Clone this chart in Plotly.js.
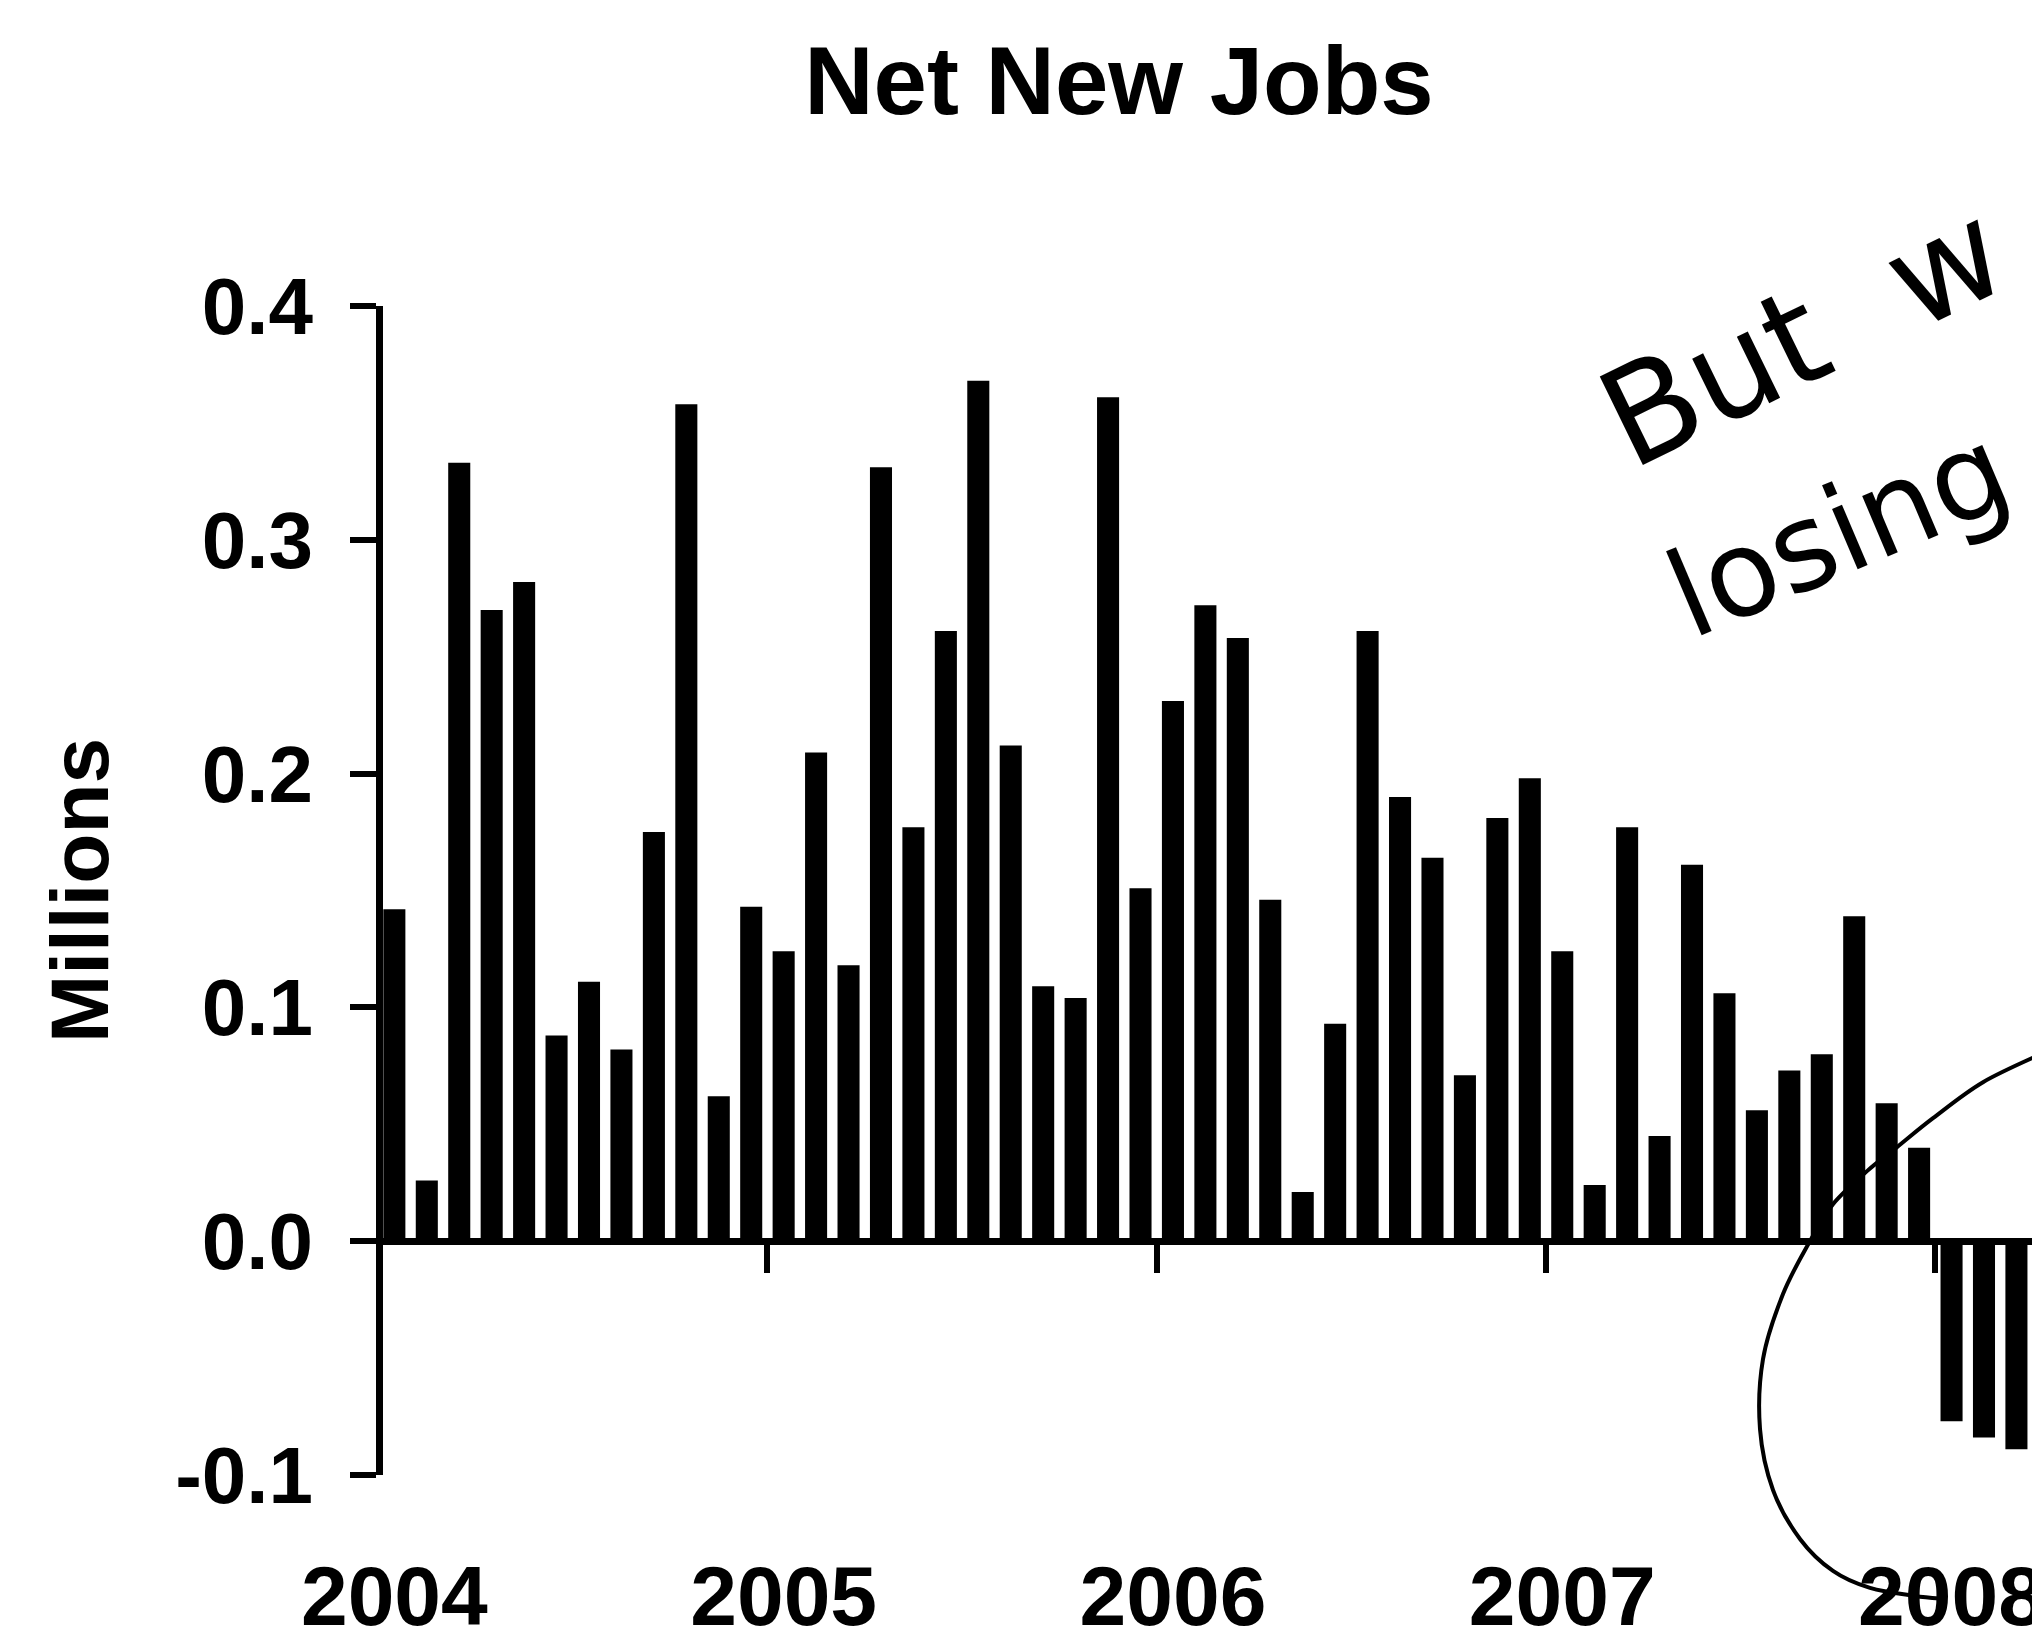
<!DOCTYPE html>
<html>
<head>
<meta charset="utf-8">
<script src="https://cdn.plot.ly/plotly-3.0.1.min.js"></script>
<style>html,body{margin:0;padding:0;background:#fff;}</style>
</head>
<body>
<div id="chart" style="width:2032px;height:1644px;"></div>
<script>
// ---- data (millions of net new jobs, monthly, Jan 2004 - Mar 2008) ----
const years = ['2004', '2005', '2006', '2007', '2008'];
const monthNames = ['Jan','Feb','Mar','Apr','May','Jun','Jul','Aug','Sep','Oct','Nov','Dec'];
const jobs2004 = [0.142, 0.026, 0.333, 0.270, 0.282, 0.088, 0.111, 0.082, 0.175, 0.358, 0.062, 0.143];
const jobs2005 = [0.124, 0.209, 0.118, 0.331, 0.177, 0.261, 0.368, 0.212, 0.109, 0.104, 0.361, 0.151];
const jobs2006 = [0.231, 0.272, 0.258, 0.146, 0.021, 0.093, 0.261, 0.190, 0.164, 0.071, 0.181, 0.198];
const jobs2007 = [0.124, 0.024, 0.177, 0.045, 0.161, 0.106, 0.056, 0.073, 0.080, 0.139, 0.059, 0.040];
const jobs2008 = [-0.077, -0.084, -0.089];
const yTickVals = [-0.1, 0.0, 0.1, 0.2, 0.3, 0.4];
const yTickText = ['-0.1', '0.0', '0.1', '0.2', '0.3', '0.4'];

// ---- build series ----
const netNewJobs = [].concat(jobs2004, jobs2005, jobs2006, jobs2007, jobs2008);
const monthIndex = netNewJobs.map((_, i) => i);
const monthLabels = netNewJobs.map((_, i) => monthNames[i % 12] + ' ' + years[Math.floor(i / 12)]);
const yearCenters = years.map((_, k) => 12 * k);          // label under January of each year
const yearBounds = years.map((_, k) => 12 * k - 0.5);      // tick at the year boundary

// ---- geometry of the plot area (px) ----
const W = 2032, H = 1644;
const mL = 383, mR = 0, mT = 305.5, mB = 169;
const pw = W - mL - mR, ph = H - mT - mB;
const xRange = [-0.35, 50.48];
const px2paperX = X => (X - mL) / pw;
const px2paperY = Y => (H - mB - Y) / ph;

// hand-drawn loop around the 2008 bars (annotation, not data)
const loopPts = [[2045,1052],[1983,1082],[1933,1118],[1897,1147],[1867,1171],[1833,1204],[1810,1241],
                 [1783,1294],[1763,1359],[1760,1429],[1773,1490],[1800,1539],[1833,1571],[1870,1588],
                 [1915,1596],[1945,1599]];
function catmullPath(pts) {
  const p = pts.map(([X, Y]) => [px2paperX(X), px2paperY(Y)]);
  let d = 'M ' + p[0][0] + ',' + p[0][1];
  for (let i = 0; i < p.length - 1; i++) {
    const p0 = p[i - 1] || p[i], p1 = p[i], p2 = p[i + 1], p3 = p[i + 2] || p2;
    const c1 = [p1[0] + (p2[0] - p0[0]) / 6, p1[1] + (p2[1] - p0[1]) / 6];
    const c2 = [p2[0] - (p3[0] - p1[0]) / 6, p2[1] - (p3[1] - p1[1]) / 6];
    d += ' C ' + c1[0] + ',' + c1[1] + ' ' + c2[0] + ',' + c2[1] + ' ' + p2[0] + ',' + p2[1];
  }
  return d;
}

const fontFam = 'Liberation Sans, Arial, Helvetica, sans-serif';

const traces = [{
  type: 'bar',
  x: monthIndex,
  y: netNewJobs,
  hovertext: monthLabels,
  hovertemplate: '%{hovertext}: %{y:.3f}M<extra></extra>',
  textposition: 'none',
  width: 0.68,
  marker: { color: '#000000', line: { width: 0 } },
  xaxis: 'x', yaxis: 'y'
}, {
  // carrier for the year-label axis (no visible marks)
  type: 'scatter', mode: 'markers',
  x: yearCenters, y: years.map(() => null),
  xaxis: 'x2', yaxis: 'y', hoverinfo: 'skip', showlegend: false,
  marker: { opacity: 0 }
}];

const layout = {
  width: W, height: H,
  margin: { l: mL, r: mR, t: mT, b: mB, pad: 0, autoexpand: false },
  paper_bgcolor: '#ffffff', plot_bgcolor: '#ffffff',
  showlegend: false,
  font: { family: fontFam, color: '#000000' },
  title: {
    text: 'Net New Jobs',
    font: { family: fontFam, size: 96, weight: 700, color: '#000000' },
    xref: 'container', x: 1119 / W, xanchor: 'center',
    yref: 'container', y: 1 - 80 / H, yanchor: 'middle'
  },
  xaxis: {
    range: xRange, anchor: 'free', position: 0.2,
    showline: true, linewidth: 7, linecolor: '#000000',
    ticks: 'outside', tickmode: 'array', tickvals: yearBounds, ticklen: 28, tickwidth: 6, tickcolor: '#000000',
    showticklabels: false, showgrid: false, zeroline: false, fixedrange: true
  },
  xaxis2: {
    range: xRange, overlaying: 'x', anchor: 'y', side: 'bottom',
    tickmode: 'array', tickvals: yearCenters, ticktext: years,
    ticks: 'outside', ticklen: 48, tickwidth: 1, tickcolor: 'rgba(0,0,0,0)',
    tickfont: { family: fontFam, size: 84, weight: 700, color: '#000000' },
    ticklabeloverflow: 'allow',
    showline: false, showgrid: false, zeroline: false, fixedrange: true
  },
  yaxis: {
    range: [-0.1, 0.4], tickmode: 'array', tickvals: yTickVals, ticktext: yTickText,
    showline: true, linewidth: 7, linecolor: '#000000',
    ticks: 'outside', ticklen: 26, tickwidth: 6, tickcolor: '#000000',
    tickfont: { family: fontFam, size: 80, weight: 700, color: '#000000' },
    ticklabelstandoff: 21,
    showgrid: false, zeroline: false, fixedrange: true,
    title: { text: 'Millions', standoff: 42,
             font: { family: fontFam, size: 82, weight: 700, color: '#000000' } }
  },
  shapes: [{
    type: 'path', xref: 'paper', yref: 'paper', layer: 'above',
    path: catmullPath(loopPts),
    line: { color: '#000000', width: 4 }
  }],
  annotations: [
    { text: 'But\u00a0\u00a0w', xref: 'paper', yref: 'paper', x: px2paperX(1802), y: px2paperY(335),
      xanchor: 'center', yanchor: 'middle', textangle: -26, showarrow: false,
      font: { family: 'DejaVu Sans, sans-serif', size: 135, color: '#000000' } },
    { text: 'losing', xref: 'paper', yref: 'paper', x: px2paperX(1838), y: px2paperY(532),
      xanchor: 'center', yanchor: 'middle', textangle: -23, showarrow: false,
      font: { family: 'DejaVu Sans, sans-serif', size: 120, color: '#000000' } }
  ]
};

Plotly.newPlot('chart', traces, layout, { displayModeBar: false, staticPlot: true });
</script>
</body>
</html>
